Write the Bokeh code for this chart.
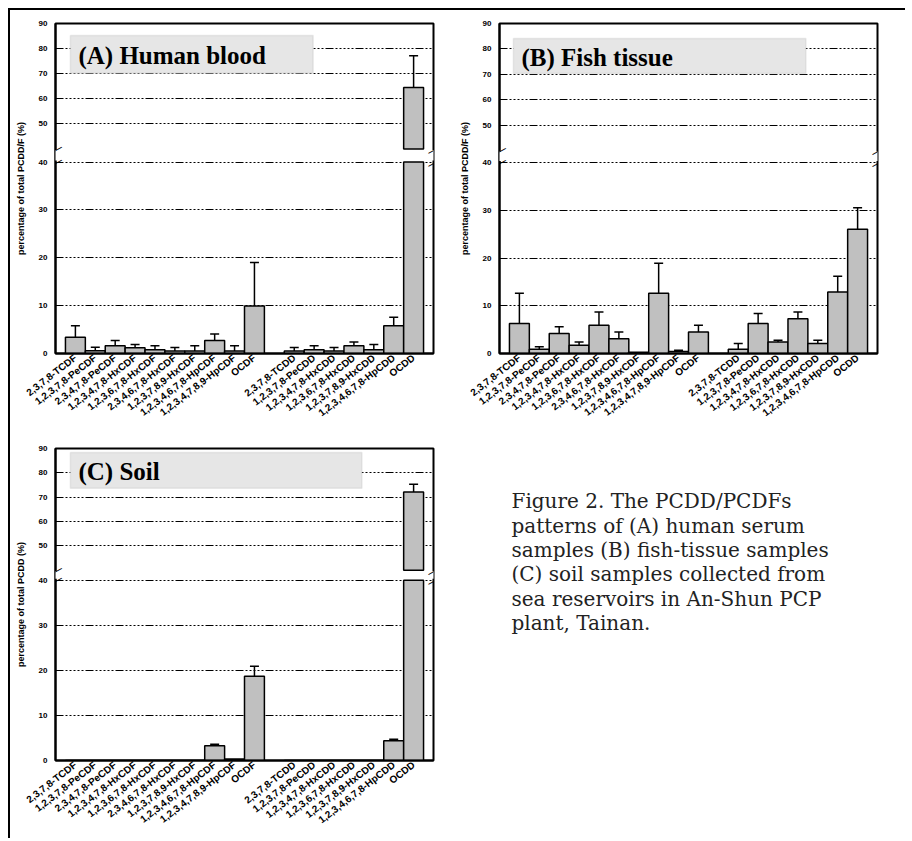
import numpy as np
from bokeh.plotting import figure
from bokeh.models import (Range1d, FixedTicker, CustomJSTickFormatter, ColumnDataSource,
                          Whisker, TeeHead, BoxAnnotation, Label, Column, Row)
from bokeh.embed import file_html
from bokeh.resources import INLINE
from bokeh.core.properties import value

# ---------------- data ----------------
PCDF = ["2,3,7,8-TCDF", "1,2,3,7,8-PeCDF", "2,3,4,7,8-PeCDF", "1,2,3,4,7,8-HxCDF",
        "1,2,3,6,7,8-HxCDF", "2,3,4,6,7,8-HxCDF", "1,2,3,7,8,9-HxCDF",
        "1,2,3,4,6,7,8-HpCDF", "1,2,3,4,7,8,9-HpCDF", "OCDF"]
PCDD = ["2,3,7,8-TCDD", "1,2,3,7,8-PeCDD", "1,2,3,4,7,8-HxCDD", "1,2,3,6,7,8-HxCDD",
        "1,2,3,7,8,9-HxCDD", "1,2,3,4,6,7,8-HpCDD", "OCDD"]

Y_TICKS_LOWER = [0, 10, 20, 30, 40]
Y_TICKS_UPPER = [50, 60, 70, 80, 90]

# values: 10 PCDF followed by 7 PCDD (percentage of total)
BLOOD_MEAN = [3.4, 0.6, 1.6, 1.2, 0.8, 0.5, 0.5, 2.7, 0.5, 9.9,
              0.5, 0.8, 0.5, 1.6, 0.8, 5.8, 64.5]
BLOOD_SD = [2.4, 0.7, 1.1, 0.7, 0.8, 0.75, 1.1, 1.4, 1.1, 9.1,
            0.75, 0.8, 0.75, 0.8, 1.1, 1.8, 12.7]

FISH_MEAN = [6.3, 0.9, 4.2, 1.75, 5.9, 3.1, 0.27, 12.6, 0.4, 4.5,
             0.9, 6.3, 2.4, 7.3, 2.1, 12.9, 26.0]
FISH_SD = [6.3, 0.5, 1.4, 0.65, 2.8, 1.4, 0.0, 6.3, 0.3, 1.4,
           1.2, 2.1, 0.4, 1.4, 0.7, 3.3, 4.5]

SOIL_MEAN = [0, 0, 0, 0, 0, 0, 0, 3.3, 0.35, 18.7,
             0, 0, 0, 0, 0, 4.4, 72.1]
SOIL_SD = [0, 0, 0, 0, 0, 0, 0, 0.3, 0, 2.2,
           0, 0, 0, 0, 0, 0.3, 3.2]

CAPTION_LINES = ["Figure 2. The PCDD/PCDFs",
                 "patterns of (A) human serum",
                 "samples (B) fish-tissue samples",
                 "(C) soil samples collected from",
                 "sea reservoirs in An-Shun PCP",
                 "plant, Tainan."]

BAR_FILL = "#c0c0c0"
GRID_DASH = "8 2 2 2 2 2 2 2 2 2 2 2"
FIG_W = 444


def make_panel(mean, sd, title, ylabel, fig_h, top_px, frame_h, lower_px, gap_px,
               box_x, box_y):
    n_slots = len(PCDF) + 1 + len(PCDD)
    xs = np.concatenate([np.arange(len(PCDF)), len(PCDF) + 1 + np.arange(len(PCDD))]).astype(float)
    mean = np.asarray(mean, float)
    sd = np.asarray(sd, float)
    brk = Y_TICKS_LOWER[-1]
    ymax = Y_TICKS_UPPER[-1]
    upper_px = frame_h - lower_px - gap_px
    y_top = brk * frame_h / lower_px
    u0 = ymax - (ymax - brk) * frame_h / upper_px

    p = figure(width=FIG_W, height=fig_h, x_range=Range1d(-1, n_slots),
               y_range=Range1d(0, y_top), output_backend="svg", toolbar_location=None,
               min_border_left=45, min_border_right=FIG_W - 45 - 378,
               min_border_top=top_px, min_border_bottom=fig_h - top_px - frame_h)
    p.extra_y_ranges = {"upper": Range1d(u0, ymax)}
    p.background_fill_color = "white"
    p.border_fill_color = "white"
    p.outline_line_color = "black"
    p.outline_line_width = 2

    # y axis with broken scale
    tick_pos = list(Y_TICKS_LOWER) + [(u - u0) / (ymax - u0) * y_top for u in Y_TICKS_UPPER]
    ticker = FixedTicker(ticks=tick_pos)
    yax = p.yaxis[0]
    yax.ticker = ticker
    yax.formatter = CustomJSTickFormatter(
        args=dict(brk=brk, ytop=y_top, u0=u0, ymax=ymax),
        code="""
        if (tick <= brk + 1e-6) { return tick.toFixed(0); }
        return Math.round(u0 + tick / ytop * (ymax - u0)).toString();
        """)
    yax.axis_line_width = 2
    yax.axis_line_color = "black"
    yax.major_tick_out = 0
    yax.major_tick_in = 0
    yax.minor_tick_out = 0
    yax.minor_tick_in = 0
    yax.major_label_standoff = 8
    yax.major_label_text_font = "Liberation Sans"
    yax.major_label_text_font_size = "8px"
    yax.major_label_text_font_style = "bold"
    yax.major_label_text_color = "black"
    yax.axis_label = ylabel
    yax.axis_label_text_font = "Liberation Sans"
    yax.axis_label_text_font_size = "9px"
    yax.axis_label_text_font_style = "bold"
    yax.axis_label_text_color = "black"
    yax.axis_label_standoff = 10

    p.ygrid.ticker = ticker
    p.ygrid.grid_line_color = "black"
    p.ygrid.grid_line_dash = GRID_DASH
    p.ygrid.grid_line_width = 1
    p.xgrid.grid_line_color = None

    # x axis
    xax = p.xaxis[0]
    xax.ticker = FixedTicker(ticks=list(xs))
    xax.major_label_overrides = {int(i): lab for i, lab in zip(xs, PCDF + PCDD)}
    xax.major_label_orientation = 0.66
    xax.major_label_text_font = "Liberation Sans"
    xax.major_label_text_font_size = "10px"
    xax.major_label_text_font_style = "bold"
    xax.major_label_text_color = "black"
    xax.major_label_standoff = 3
    xax.major_tick_out = 0
    xax.major_tick_in = 0
    xax.minor_tick_out = 0
    xax.minor_tick_in = 0
    xax.axis_line_width = 2
    xax.axis_line_color = "black"

    # bars (lower segment)
    lower_top = np.minimum(mean, brk)
    p.vbar(x=xs, top=lower_top, bottom=0, width=1, fill_color=BAR_FILL,
           line_color="black", line_width=1.5)
    hi = mean > brk
    if hi.any():
        p.vbar(x=xs[hi], bottom=brk, top=mean[hi], width=1, y_range_name="upper",
               fill_color=BAR_FILL, line_color="black", line_width=1.5)

    # error bars
    lo_mask = (sd > 0) & ~hi
    src_lo = ColumnDataSource(dict(base=xs[lo_mask], lower=mean[lo_mask],
                                   upper=(mean + sd)[lo_mask]))
    p.add_layout(Whisker(source=src_lo, base="base", lower="lower", upper="upper",
                         dimension="height", lower_head=None, level="glyph",
                         upper_head=TeeHead(size=9, line_width=1.5, line_color="black"),
                         line_color="black", line_width=1.5))
    hi_mask = (sd > 0) & hi
    if hi_mask.any():
        src_hi = ColumnDataSource(dict(base=xs[hi_mask], lower=mean[hi_mask],
                                       upper=(mean + sd)[hi_mask]))
        p.add_layout(Whisker(source=src_hi, base="base", lower="lower", upper="upper",
                             dimension="height", lower_head=None, level="glyph",
                             y_range_name="upper",
                             upper_head=TeeHead(size=9, line_width=1.5, line_color="black"),
                             line_color="black", line_width=1.5))

    # gap of the broken axis
    px = y_top / frame_h
    p.add_layout(BoxAnnotation(left=-1.3, right=n_slots + 0.3, bottom=brk + 1.5 * px,
                               top=brk * (lower_px + gap_px) / lower_px - 1.0 * px,
                               fill_color="white", fill_alpha=1.0, line_alpha=0,
                               level="overlay"))
    for xe in (-1, n_slots):
        p.add_layout(Label(x=xe, y=brk, text="\u2014", angle=0.5, text_align="center",
                           text_baseline="middle", text_font_size="13px",
                           text_color="black", level="overlay"))
        p.add_layout(Label(x=xe, y=brk, y_range_name="upper", text="\u2014", angle=0.5,
                           text_align="center", text_baseline="middle",
                           text_font_size="13px", text_color="black", level="overlay"))

    # panel title box
    p.add_layout(BoxAnnotation(left=box_x[0], right=box_x[1], top=box_y[0], bottom=box_y[1],
                               y_range_name="upper", fill_color="#e6e6e6", fill_alpha=1.0,
                               line_color="#bdbdbd", line_width=1.5))
    p.add_layout(Label(x=box_x[0], y=(box_y[0] + box_y[1]) / 2, y_range_name="upper",
                       text=title, x_offset=8, y_offset=-1, text_baseline="middle",
                       text_font="Liberation Serif", text_font_style="bold",
                       text_font_size="25px", text_color="black"))

    # the small dot below the category labels
    p.add_layout(Label(x=7.4, y=0, y_offset=-60, text=".", text_font_size="12px",
                       text_font_style="bold", text_align="center", text_color="black"))
    return p


pA = make_panel(BLOOD_MEAN, BLOOD_SD, "(A) Human blood", "percentage of total PCDD/F (%)",
                425, 12, 331, 192, 13, (-0.25, 11.95), (85.2, 70.2))
pB = make_panel(FISH_MEAN, FISH_SD, "(B) Fish tissue", "percentage of total PCDD/F (%)",
                425, 13, 330, 191, 12, (-0.3, 14.4), (84.1, 70.3))
pC = make_panel(SOIL_MEAN, SOIL_SD, "(C) Soil", "percentage of total PCDD (%)",
                397, 13, 315, 182, 10, (-0.25, 14.4), (88.4, 73.7))

# caption
cap_h = 397
pCap = figure(width=FIG_W, height=cap_h, x_range=Range1d(0, FIG_W), y_range=Range1d(cap_h, 0),
              output_backend="svg", toolbar_location=None, min_border=0,
              x_axis_location=None, y_axis_location=None)
pCap.outline_line_color = None
pCap.grid.grid_line_color = None
pCap.background_fill_color = "white"
pCap.border_fill_color = "white"
n = len(CAPTION_LINES)
pCap.text(x=[57] * n, y=list(67 + 31 * np.arange(n)), text=CAPTION_LINES,
          text_font=value("DejaVu Serif"), text_font_size="20px", text_color="#222222",
          text_baseline="alphabetic", text_align="left")

layout = Column(children=[Row(children=[pA, pB]), Row(children=[pC, pCap])],
                margin=(8, 0, 0, 8),
                styles={"border-top": "2px solid black", "border-left": "2px solid black",
                        "padding-right": "7px", "padding-bottom": "6px"})

open("out.html", "w").write(file_html(layout, INLINE))
